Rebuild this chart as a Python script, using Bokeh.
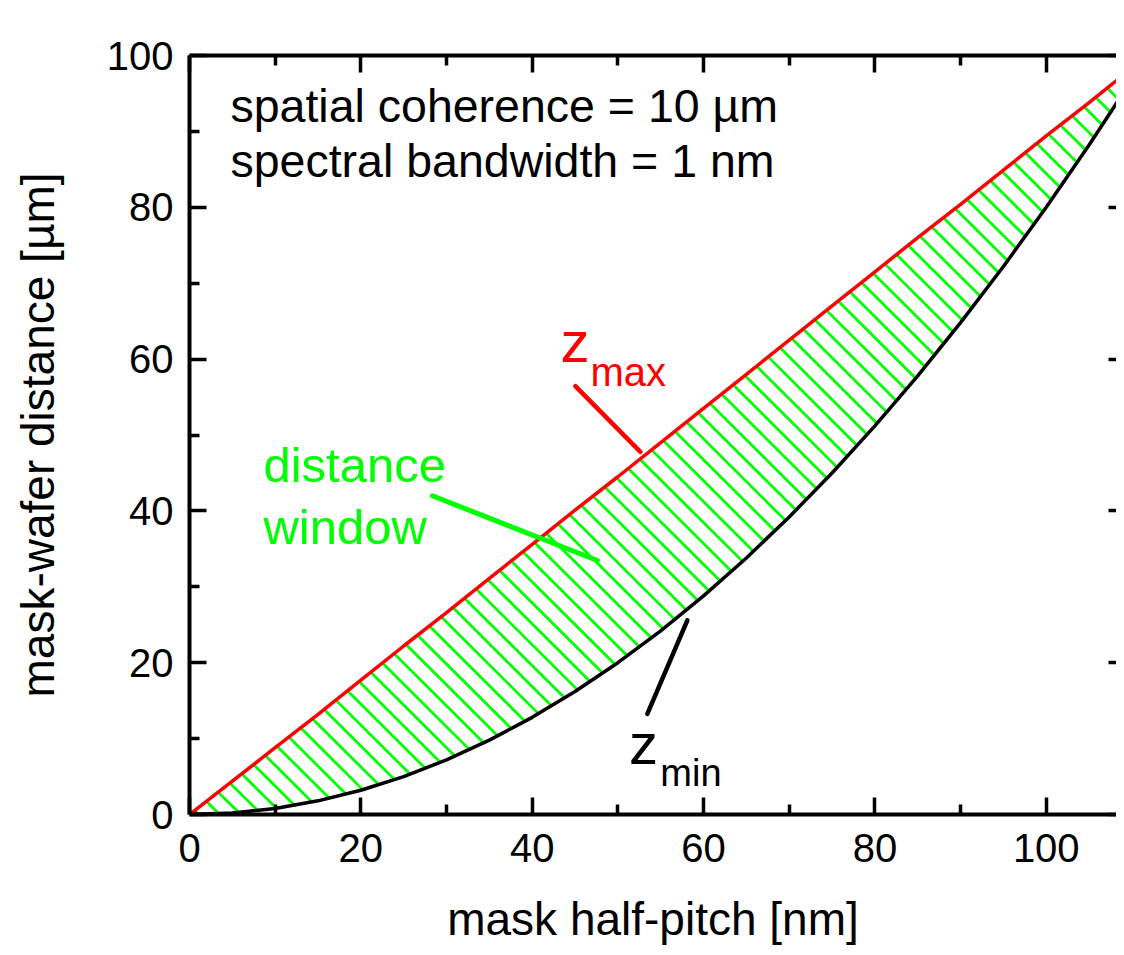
import numpy as np
from bokeh.plotting import figure
from bokeh.models import Range1d, LinearAxis, FixedTicker, CustomJSTickFormatter
from bokeh.core.properties import value
from bokeh.embed import file_html
from bokeh.resources import INLINE

# ---- data ----
half_pitch = [0, 5, 10, 15, 20, 25, 30, 35, 40, 45, 50, 55, 60, 65, 70, 75, 80, 85, 90, 95, 100, 105, 110]
z_max = [0.0, 4.4, 8.8, 13.2, 17.7, 22.2, 26.6, 31.1, 35.6, 40.1, 44.5, 49.0, 53.5, 58.0, 62.5, 67.0, 71.5, 76.0, 80.4, 84.9, 89.4, 93.8, 98.3]
z_min = [0.0, 0.2, 0.8, 1.8, 3.2, 5.0, 7.2, 9.8, 12.8, 16.2, 20.0, 24.2, 28.8, 33.8, 39.2, 45.0, 51.2, 57.8, 64.8, 72.2, 80.0, 88.2, 96.8]
x_major = [0, 20, 40, 60, 80, 100]
x_minor = [10, 30, 50, 70, 90, 110]
y_major = [0, 20, 40, 60, 80, 100]
y_minor = [10, 30, 50, 70, 90]
note_lines = ["spatial coherence = 10 µm", "spectral bandwidth = 1 nm"]
window_lines = ["distance", "window"]

FONT = "Liberation Sans"
X_END = 108.2
FRAME_W = 927
FRAME_H = 762

p = figure(width=1116, height=947, x_range=Range1d(0, X_END), y_range=Range1d(0, 100),
           output_backend="svg", toolbar_location=None,
           min_border_left=189, min_border_right=0, min_border_top=55, min_border_bottom=130,
           x_axis_label="mask half-pitch [nm]", y_axis_label="mask-wafer distance [µm]")
p.outline_line_color = None
p.grid.visible = False
p.background_fill_color = "white"
p.border_fill_color = "white"


def style(ax, labels=True):
    ax.axis_line_width = 4
    ax.axis_line_color = "black"
    ax.major_tick_in = 17
    ax.major_tick_out = 0
    ax.minor_tick_in = 10
    ax.minor_tick_out = 0
    ax.major_tick_line_width = 3.5
    ax.minor_tick_line_width = 3.5
    ax.major_tick_line_color = "black"
    ax.minor_tick_line_color = "black"
    ax.major_label_text_font = FONT
    ax.major_label_text_font_size = "40px"
    ax.major_label_text_color = "black"
    ax.axis_label_text_font = FONT
    ax.axis_label_text_font_size = "46px"
    ax.axis_label_text_font_style = "normal"
    ax.axis_label_text_color = "black"
    if not labels:
        ax.formatter = CustomJSTickFormatter(code="return ''")
        ax.major_label_standoff = 0


xa = p.xaxis[0]
ya = p.yaxis[0]
xa.ticker = FixedTicker(ticks=x_major, minor_ticks=x_minor)
ya.ticker = FixedTicker(ticks=y_major, minor_ticks=y_minor)
style(xa)
style(ya)
xa.major_label_standoff = 19
xa.axis_label_standoff = 28
ya.major_label_standoff = 16
ya.axis_label_standoff = 40

top = LinearAxis(ticker=FixedTicker(ticks=x_major, minor_ticks=x_minor))
style(top, labels=False)
p.add_layout(top, "above")

right = LinearAxis(ticker=FixedTicker(ticks=y_major, minor_ticks=[]))
style(right, labels=False)
right.axis_line_color = None
right.major_tick_in = 8
p.add_layout(right, "right")

# ---- 45-degree hatch of the distance window, derived from the two curves ----
px_x = FRAME_W / X_END
px_y = FRAME_H / 100.0
s = px_x / px_y                      # data slope giving 45 deg on screen
grid = np.linspace(0, 110, 4401)
zu = np.interp(grid, half_pitch, z_max)
zl = np.interp(grid, half_pitch, z_min)
gu = zu + s * grid
gl = zl + s * grid
dk = 21.0 / px_y
hx, hy = [], []
for k in np.arange(1.2, gu[-1], dk):
    xu = float(np.interp(k, gu, grid))
    xl = float(np.interp(k, gl, grid))
    hx.append([xu, xl])
    hy.append([k - s * xu, k - s * xl])
p.multi_line(hx, hy, line_color="#00ff00", line_width=2.8)

p.line(half_pitch, z_max, line_color="#ff0000", line_width=3.5)
p.line(half_pitch, z_min, line_color="black", line_width=3.5)

# ---- annotations ----
p.text(x=[4.78, 4.78], y=[91.2, 84.0], text=note_lines, text_font=value(FONT),
       text_font_size="46.5px", text_color="black", text_baseline="alphabetic", text_align="left",
       y_offset=-16)
p.text(x=[8.63, 8.63], y=[43.8, 35.7], text=window_lines, text_font=value(FONT),
       text_font_size="49px", text_color="#00ff00", text_baseline="alphabetic", text_align="left",
       y_offset=-17)
p.segment(x0=[28.35], y0=[41.99], x1=[47.61], y1=[33.46], line_color="#00ff00", line_width=5, line_cap="round")

p.text(x=[43.3], y=[59.6], text=["z"], text_font=value(FONT), text_font_size="58px",
       text_color="#ff0000", text_baseline="alphabetic", text_align="left", y_offset=-21)
p.text(x=[46.8], y=[56.4], text=["max"], text_font=value(FONT), text_font_size="40px",
       text_color="#ff0000", text_baseline="alphabetic", text_align="left", y_offset=-14)
p.segment(x0=[45.04], y0=[56.43], x1=[52.63], y1=[47.77], line_color="#ff0000", line_width=4.5, line_cap="round")

p.text(x=[51.3], y=[6.56], text=["z"], text_font=value(FONT), text_font_size="58px",
       text_color="black", text_baseline="alphabetic", text_align="left", y_offset=-21)
p.text(x=[54.96], y=[3.8], text=["min"], text_font=value(FONT), text_font_size="38px",
       text_color="black", text_baseline="alphabetic", text_align="left", y_offset=-13)
p.segment(x0=[58.11], y0=[25.59], x1=[53.44], y1=[13.25], line_color="black", line_width=4.5, line_cap="round")

open("out.html", "w").write(file_html(p, INLINE))
